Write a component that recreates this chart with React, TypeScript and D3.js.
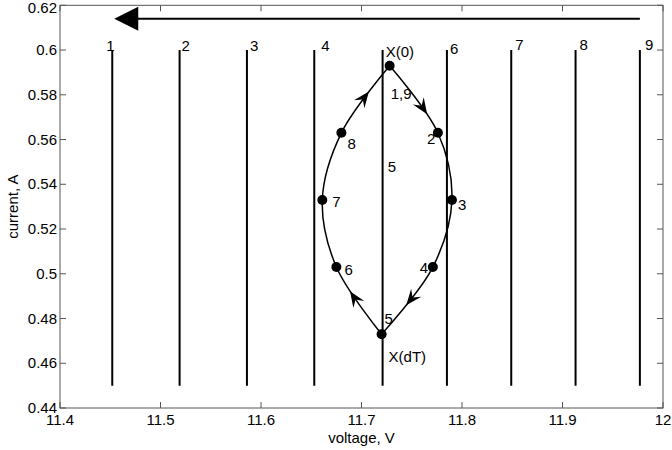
import React, { useEffect, useRef } from "react";
import * as d3 from "d3";

// Vertical sampling lines (voltage positions) and their numbers
const lineVoltages = [11.452, 11.519, 11.586, 11.653, 11.721, 11.785, 11.849, 11.913, 11.977];
const lineNames = ["1", "2", "3", "4", "5", "6", "7", "8", "9"];
const lineLabelV = [11.446, 11.521, 11.589, 11.660, 11.726, 11.788, 11.853, 11.917, 11.982];
const lineLabelI = [0.6, 0.6, 0.6, 0.6, 0.546, 0.5985, 0.6005, 0.6005, 0.6005];
const lineTopI = 0.6;
const lineBottomI = 0.45;

// Orbit points (voltage, current)
const orbitV = [11.728, 11.776, 11.790, 11.771, 11.720, 11.675, 11.661, 11.680];
const orbitI = [0.593, 0.563, 0.533, 0.503, 0.473, 0.503, 0.533, 0.563];
const orbitNames = ["1,9", "2", "3", "4", "5", "6", "7", "8"];
const rightSide = [0, 1, 2, 3, 4];
const leftSide = [4, 5, 6, 7, 0];

// Direction arrow along the top
const sweepFromV = 11.977;
const sweepToV = 11.454;
const sweepI = 0.614;

// Axis ticks
const xTicks = [11.4, 11.5, 11.6, 11.7, 11.8, 11.9, 12];
const xTickLabels = ["11.4", "11.5", "11.6", "11.7", "11.8", "11.9", "12"];
const yTicks = [0.44, 0.46, 0.48, 0.5, 0.52, 0.54, 0.56, 0.58, 0.6, 0.62];
const yTickLabels = ["0.44", "0.46", "0.48", "0.5", "0.52", "0.54", "0.56", "0.58", "0.6", "0.62"];

const W = 672;
const H = 450;
const FONT = "'Liberation Sans', Arial, Helvetica, sans-serif";
const FS = 15;

export default function App() {
  const ref = useRef<SVGSVGElement | null>(null);

  useEffect(() => {
    const svg = d3.select(ref.current);
    svg.selectAll("*").remove();

    const x = d3.scaleLinear().domain([11.4, 12]).range([60, 663]);
    const y = d3.scaleLinear().domain([0.44, 0.62]).range([408, 5.3]);
    const [x0, x1] = x.range();
    const [yb, yt] = y.range();
    const tick = 6;

    const g = svg.append("g");

    // axis box
    g.append("rect")
      .attr("x", x0).attr("y", yt)
      .attr("width", x1 - x0).attr("height", yb - yt)
      .attr("fill", "none").attr("stroke", "#555").attr("stroke-width", 1);

    // ticks (inside, on all four sides)
    xTicks.forEach((v) => {
      g.append("line").attr("x1", x(v)).attr("x2", x(v)).attr("y1", yb).attr("y2", yb - tick)
        .attr("stroke", "#555");
      g.append("line").attr("x1", x(v)).attr("x2", x(v)).attr("y1", yt).attr("y2", yt + tick)
        .attr("stroke", "#555");
    });
    yTicks.forEach((v) => {
      g.append("line").attr("x1", x0).attr("x2", x0 + tick).attr("y1", y(v)).attr("y2", y(v))
        .attr("stroke", "#555");
      g.append("line").attr("x1", x1).attr("x2", x1 - tick).attr("y1", y(v)).attr("y2", y(v))
        .attr("stroke", "#555");
    });

    // tick labels
    g.selectAll(".xt").data(xTicks).enter().append("text")
      .attr("x", (d) => x(d)).attr("y", yb + 17)
      .attr("text-anchor", "middle")
      .attr("font-family", FONT).attr("font-size", FS)
      .text((_, i) => xTickLabels[i]);
    g.selectAll(".yt").data(yTicks).enter().append("text")
      .attr("x", x0 - 3).attr("y", (d) => Math.max(y(d) + 5, 13))
      .attr("text-anchor", "end")
      .attr("font-family", FONT).attr("font-size", FS)
      .text((_, i) => yTickLabels[i]);

    // axis titles
    g.append("text")
      .attr("x", (x0 + x1) / 2).attr("y", 443)
      .attr("text-anchor", "middle")
      .attr("font-family", FONT).attr("font-size", FS)
      .text("voltage, V");
    g.append("text")
      .attr("transform", `translate(18, ${(yb + yt) / 2}) rotate(-90)`)
      .attr("text-anchor", "middle")
      .attr("font-family", FONT).attr("font-size", FS)
      .text("current, A");

    // vertical lines
    g.selectAll(".vl").data(lineVoltages).enter().append("line")
      .attr("x1", (d) => x(d)).attr("x2", (d) => x(d))
      .attr("y1", y(lineTopI)).attr("y2", y(lineBottomI))
      .attr("stroke", "#000").attr("stroke-width", 2);

    g.selectAll(".vlab").data(lineNames).enter().append("text")
      .attr("x", (_, i) => x(lineLabelV[i])).attr("y", (_, i) => y(lineLabelI[i]) + 1)
      .attr("font-family", FONT).attr("font-size", FS)
      .text((d) => d);

    // top sweep arrow
    const ay = y(sweepI);
    const tipX = x(sweepToV);
    g.append("line")
      .attr("x1", x(sweepFromV)).attr("x2", tipX + 20)
      .attr("y1", ay).attr("y2", ay)
      .attr("stroke", "#000").attr("stroke-width", 2);
    g.append("path")
      .attr("d", `M${tipX},${ay} L${tipX + 24},${ay - 12} L${tipX + 24},${ay + 12} Z`)
      .attr("fill", "#000");

    // orbit curves
    const lineGen = d3.line<number>()
      .x((i) => x(orbitV[i]))
      .y((i) => y(orbitI[i]))
      .curve(d3.curveCatmullRom.alpha(0.5));

    const sides = [rightSide, leftSide];
    const paths = sides.map((side) =>
      g.append("path")
        .attr("d", lineGen(side) as string)
        .attr("fill", "none")
        .attr("stroke", "#000")
        .attr("stroke-width", 1.5)
    );

    // arrowheads placed along given segments: [side, segment index, fraction]
    const arrowSpecs: [number, number, number][] = [
      [0, 0, 0.74],
      [0, 3, 0.55],
      [1, 0, 0.66],
      [1, 3, 0.6],
    ];

    arrowSpecs.forEach(([s, seg, t]) => {
      const node = paths[s].node() as SVGPathElement;
      const total = node.getTotalLength();
      const side = sides[s];
      const N = 600;
      const samples = d3.range(N + 1).map((k) => {
        const p = node.getPointAtLength((k / N) * total);
        return { l: (k / N) * total, x: p.x, y: p.y };
      });
      const lenAt = (idx: number) => {
        const px = x(orbitV[idx]);
        const py = y(orbitI[idx]);
        return d3.least(samples, (p) => (p.x - px) ** 2 + (p.y - py) ** 2)!.l;
      };
      const la = lenAt(side[seg]);
      const lb = lenAt(side[seg + 1]);
      const L = la + t * (lb - la);
      const p = node.getPointAtLength(L);
      const p0 = node.getPointAtLength(Math.max(0, L - 2));
      const p1 = node.getPointAtLength(Math.min(total, L + 2));
      const ang = (Math.atan2(p1.y - p0.y, p1.x - p0.x) * 180) / Math.PI;
      g.append("path")
        .attr("d", "M0,0 L-16,-6.5 L-10,0 L-16,6.5 Z")
        .attr("transform", `translate(${p.x},${p.y}) rotate(${ang})`)
        .attr("fill", "#000");
    });

    // orbit points
    g.selectAll(".pt").data(orbitV).enter().append("circle")
      .attr("cx", (d) => x(d)).attr("cy", (_, i) => y(orbitI[i]))
      .attr("r", 5).attr("fill", "#000");

    // point labels (pixel offsets from each point)
    const labelOffsets: [number, number][] = [
      [1, 33], [-11, 11], [6, 10], [-13, 6], [3, -10], [8, 8], [10, 7], [6, 16],
    ];
    g.selectAll(".plab").data(orbitNames).enter().append("text")
      .attr("x", (_, i) => x(orbitV[i]) + labelOffsets[i][0])
      .attr("y", (_, i) => y(orbitI[i]) + labelOffsets[i][1])
      .attr("font-family", FONT).attr("font-size", FS)
      .text((d) => d);

    // state markers
    g.append("text")
      .attr("x", x(orbitV[0]) - 4).attr("y", y(orbitI[0]) - 9)
      .attr("font-family", FONT).attr("font-size", FS)
      .text("X(0)");
    g.append("text")
      .attr("x", x(orbitV[4]) + 7).attr("y", y(orbitI[4]) + 28)
      .attr("font-family", FONT).attr("font-size", FS)
      .text("X(dT)");
  }, []);

  return (
    <svg
      ref={ref}
      width={W}
      height={H}
      style={{ position: "absolute", left: 0, top: 0, background: "#fff" }}
    />
  );
}
